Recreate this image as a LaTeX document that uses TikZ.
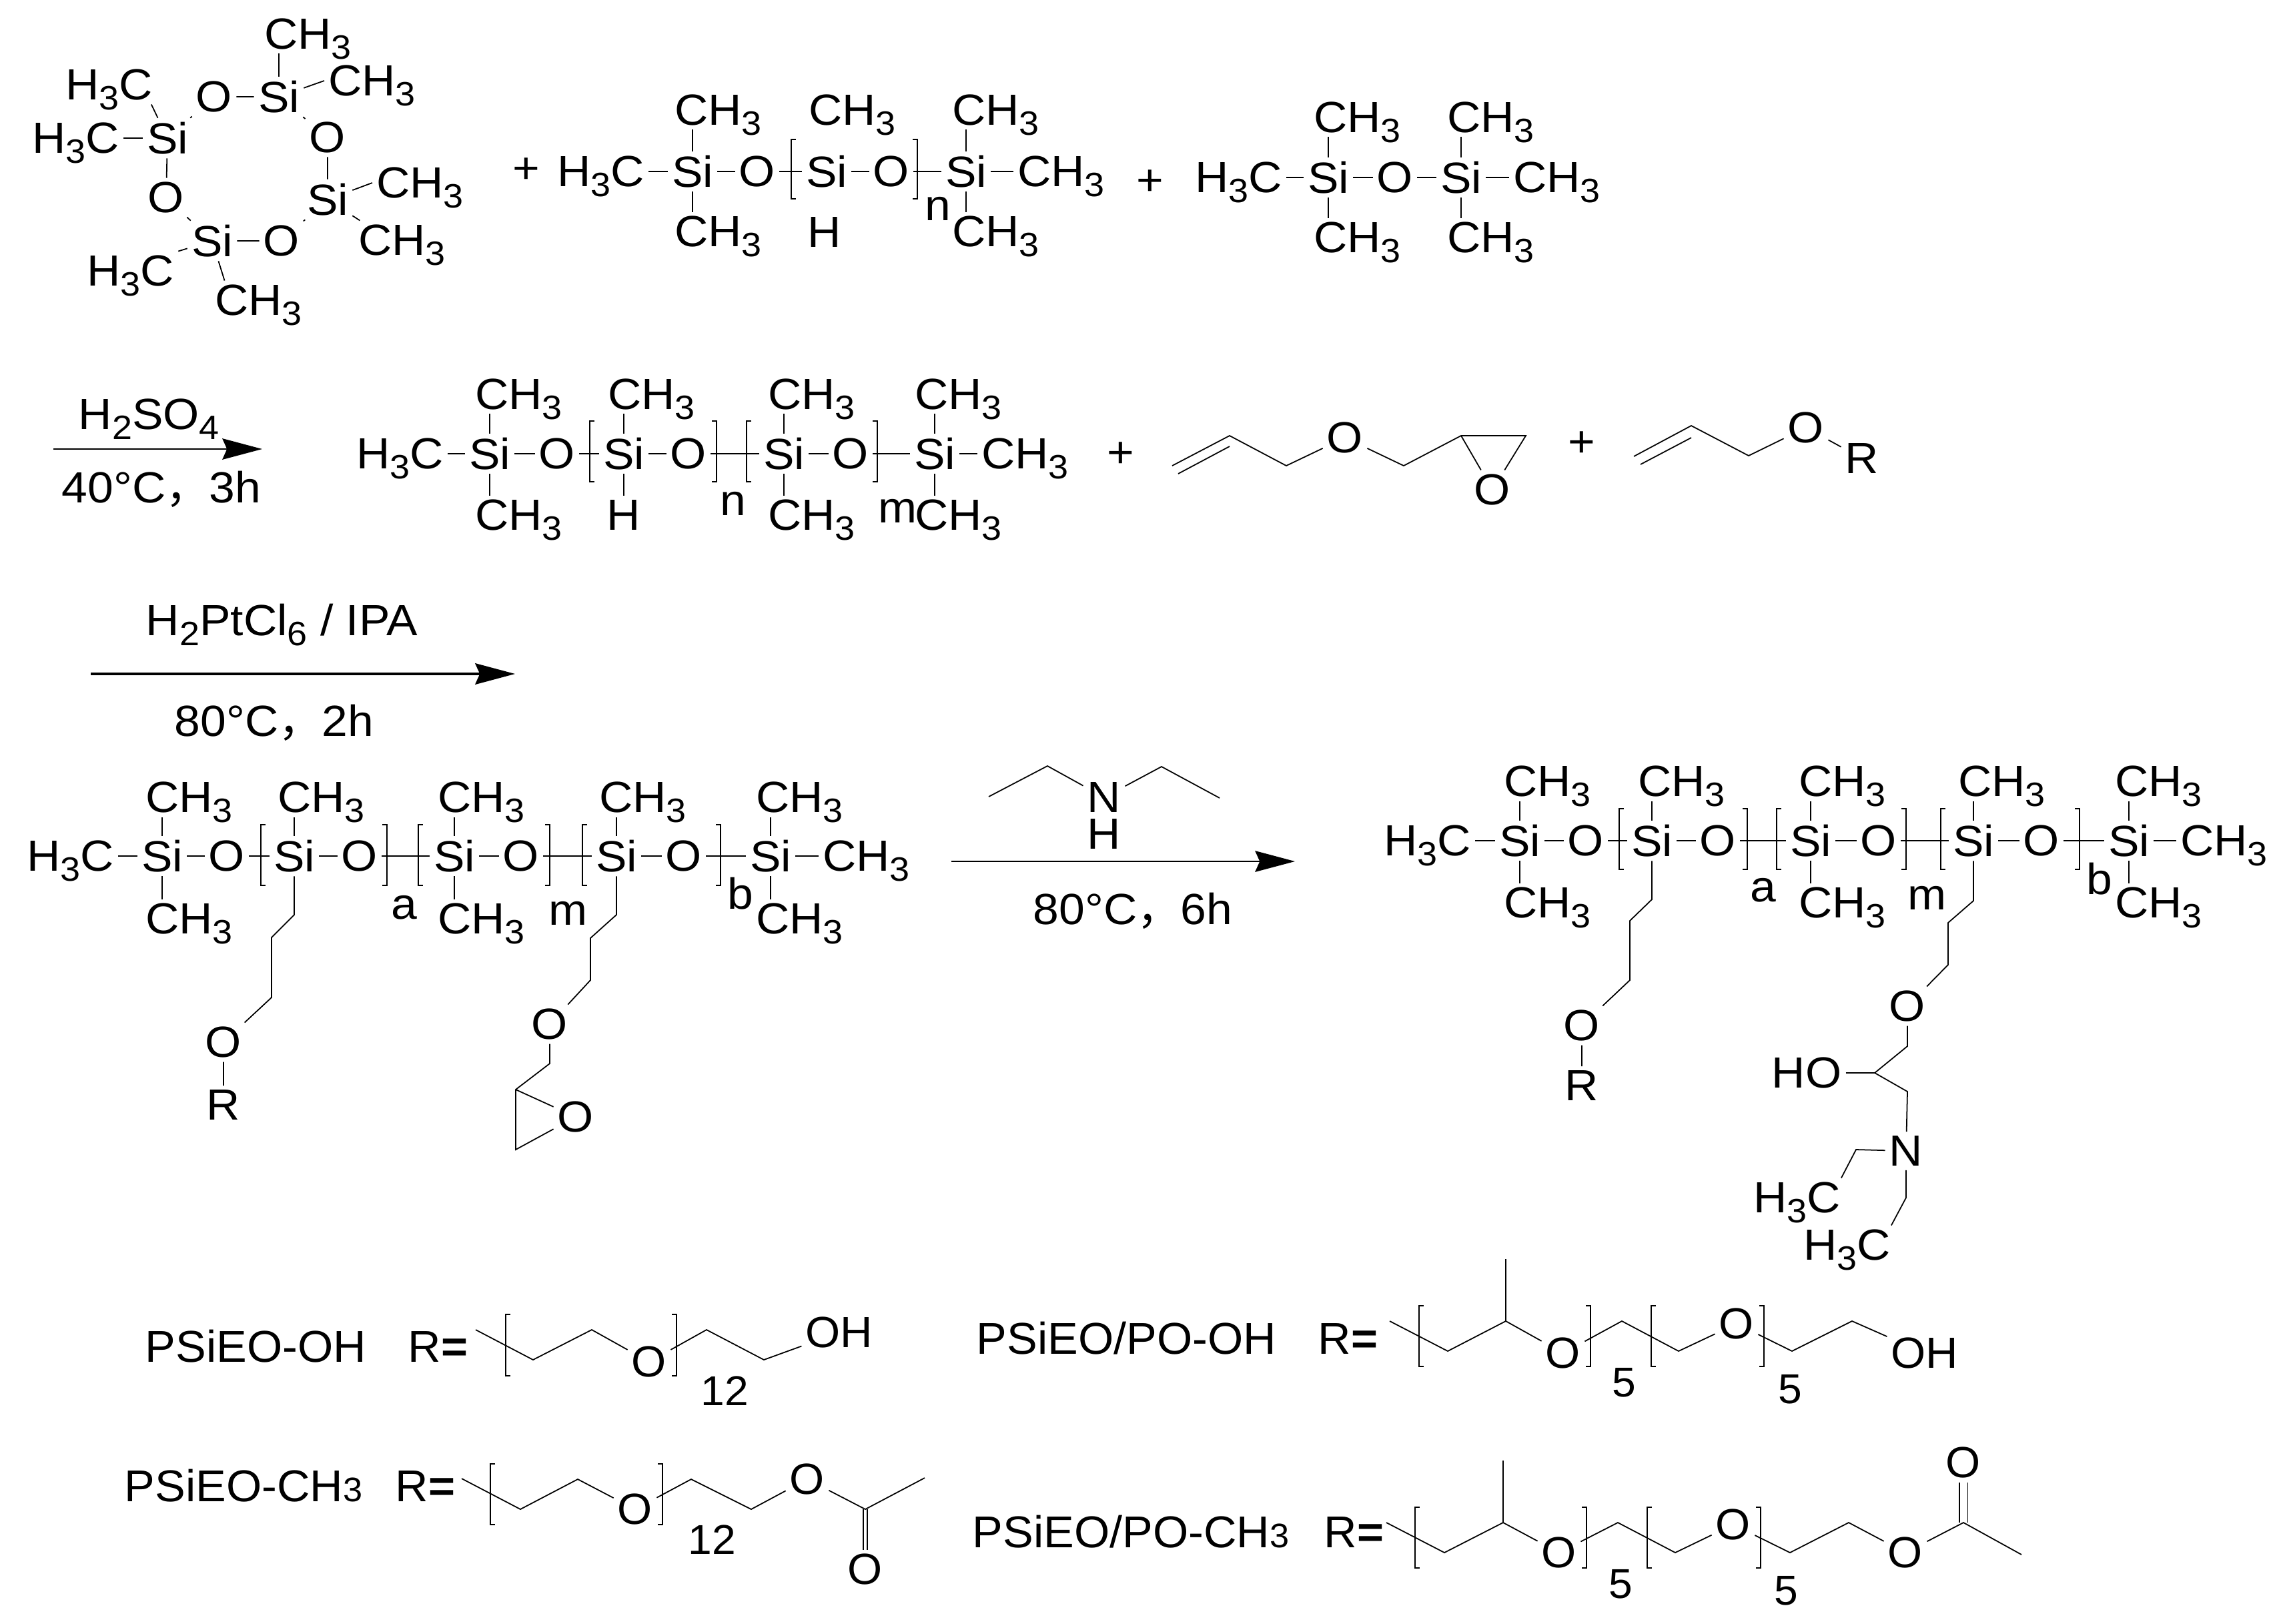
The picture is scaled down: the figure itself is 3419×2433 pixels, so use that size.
\documentclass[tikz,border=0pt]{standalone}
\usepackage{fontspec}
\setmainfont[FakeStretch=1.065]{Liberation Sans}
\newfontfamily\labelfont[FakeStretch=1.025]{Liberation Sans}
\newfontfamily\cjk{Noto Sans CJK SC}
\usetikzlibrary{arrows.meta}
\newcommand{\sbs}[1]{\smash{\raisebox{-0.23em}{\fontsize{14.4}{14.4}\selectfont #1}}}
\newcommand{\chme}{CH\sbs{3}}
\newcommand{\hcme}{H\sbs{3}C}
\newcommand{\upbond}[2]{\draw (#1.north) -- (#1.north |- #2.south);}
\newcommand{\downbond}[2]{\draw (#1.south) -- (#1.south |- #2.north);}
\newcommand{\brL}[3]{\draw[brack] (#1,#2) ++(7,0) -- ++(-7,0) -- (#1,#3) -- ++(7,0);}
\newcommand{\brR}[3]{\draw[brack] (#1,#2) ++(-7,0) -- ++(7,0) -- (#1,#3) -- ++(-7,0);}
\tikzset{
  atom/.style  = {inner sep=0pt, outer sep=1.8pt},
  group/.style = {atom, anchor=west},
  plus/.style  = {inner sep=0pt},
  idx/.style   = {inner sep=0pt, anchor=base},
  cond/.style  = {inner sep=0pt, anchor=west},
  lbl/.style   = {inner sep=0pt, anchor=west, font=\labelfont\fontsize{19}{21}\selectfont},
  digit/.style = {inner sep=0pt, font=\labelfont\fontsize{17.8}{20}\selectfont},
  brack/.style = {line width=.4pt},
  rxn/.style   = {-{Stealth[length=17pt,width=9pt,inset=2pt]}}
}
\begin{document}
\begin{tikzpicture}[x=0.01cm, y=-0.01cm, line width=.5pt, font=\fontsize{18.6}{20}\selectfont]
 \useasboundingbox (0,0) rectangle (3419,2433);
 % cyclic siloxane
 \node[atom] (cyT) at (418,145) {Si};
 \node[atom] (cyL) at (251,207) {Si};
 \node[atom] (cyR) at (491,299) {Si};
 \node[atom] (cyB) at (318,361) {Si};
 \node[atom] (cyO1) at (321,145) {O};
 \node[atom] (cyO2) at (491,206) {O};
 \node[atom] (cyO3) at (422,361) {O};
 \node[atom] (cyO4) at (249,296) {O};
 \node[group] (cy1) at (390,51) {\chme};
 \node[group] (cy2) at (486,121) {\chme};
 \node[group] (cy3) at (92,127) {\hcme};
 \node[group] (cy4) at (42,207) {\hcme};
 \node[group] (cy5) at (558,274) {\chme};
 \node[group] (cy6) at (531,360) {\chme};
 \node[group] (cy7) at (124,406) {\hcme};
 \node[group] (cy8) at (316,450) {\chme};
 \draw (cyT) -- (cyO1) -- (cyL) -- (cyO4) -- (cyB) -- (cyO3) -- (cyR) -- (cyO2) -- (cyT);
 \upbond{cyT}{cy1}
 \draw (cyT) -- (cy2.west);
 \draw (cyL) -- (cy3.-25);
 \draw (cyL) -- (cy4);
 \draw (cyR) -- (cy5.west);
 \draw (cyR) -- (cy6.155);
 \draw (cyB) -- (cy7.north east);
 \draw (cyB) -- (cy8.150);
 \node[plus] (pl1) at (789,256) {+};
 % hydrogen siloxane
 \node[group] (aL) at (829,257) {\hcme};
 \node[atom] (aS1) at (1038,257) {Si};
 \node[atom] (aO1) at (1135,257) {O};
 \node[atom] (aS2) at (1239,257) {Si};
 \node[atom] (aO2) at (1336,257) {O};
 \node[atom] (aS3) at (1448,257) {Si};
 \node[group] (aR) at (1519,257) {\chme};
 \node[group] (aU1) at (1005,165) {\chme};
 \node[group] (aU2) at (1206,165) {\chme};
 \node[group] (aU3) at (1421,165) {\chme};
 \node[group] (aD1) at (1005,347) {\chme};
 \node[atom] (aH) at (1236,348) {H};
 \node[group] (aD3) at (1421,347) {\chme};
 \node[idx] (an) at (1406,330) {n};
 \draw (aL) -- (aS1) -- (aO1) -- (aS2) -- (aO2) -- (aS3) -- (aR);
 \upbond{aS1}{aU1}
 \upbond{aS3}{aU3}
 \downbond{aS1}{aD1}
 \downbond{aS3}{aD3}
 \brL{1186}{209}{298}
 \brR{1375}{209}{298}
 \node[plus] (pl2) at (1724,274) {+};
 % disiloxane
 \node[group] (bL) at (1785,266) {\hcme};
 \node[atom] (bS1) at (1991,266) {Si};
 \node[atom] (bO) at (2091,266) {O};
 \node[atom] (bS2) at (2190,266) {Si};
 \node[group] (bR) at (2262,266) {\chme};
 \node[group] (bU1) at (1963,176) {\chme};
 \node[group] (bU2) at (2163,176) {\chme};
 \node[group] (bD1) at (1963,356) {\chme};
 \node[group] (bD2) at (2163,356) {\chme};
 \draw (bL) -- (bS1) -- (bO) -- (bS2) -- (bR);
 \upbond{bS1}{bU1}
 \upbond{bS2}{bU2}
 \downbond{bS1}{bD1}
 \downbond{bS2}{bD2}
 % first arrow
 \coordinate (r1a) at (80,673);
 \coordinate (r1b) at (393,673);
 \draw[rxn] (r1a) -- (r1b);
 \node[cond] (r1t) at (117,621) {H\sbs{2}SO\sbs{4}};
 \node[cond] (r1u) at (92,733) {40°C{\cjk ，}3h};
 % second row chain
 \node[group] (dL) at (528,680) {\hcme};
 \node[atom] (dS1) at (734,680) {Si};
 \node[atom] (dO1) at (835,680) {O};
 \node[atom] (dS2) at (935,680) {Si};
 \node[atom] (dO2) at (1032,680) {O};
 \node[atom] (dS3) at (1175,680) {Si};
 \node[atom] (dO3) at (1275,680) {O};
 \node[atom] (dS4) at (1401,680) {Si};
 \node[group] (dR) at (1465,680) {\chme};
 \node[group] (dU1) at (706,591) {\chme};
 \node[group] (dU2) at (905,591) {\chme};
 \node[group] (dU3) at (1145,591) {\chme};
 \node[group] (dU4) at (1365,591) {\chme};
 \node[group] (dD1) at (706,772) {\chme};
 \node[atom] (dH) at (935,772) {H};
 \node[group] (dD3) at (1145,772) {\chme};
 \node[group] (dD4) at (1365,772) {\chme};
 \node[idx] (dn) at (1099,772) {n};
 \node[idx] (dm) at (1345,783) {m};
 \draw (dL) -- (dS1) -- (dO1) -- (dS2) -- (dO2) -- (dS3) -- (dO3) -- (dS4) -- (dR);
 \upbond{dS1}{dU1}
 \upbond{dS2}{dU2}
 \upbond{dS3}{dU3}
 \upbond{dS4}{dU4}
 \downbond{dS1}{dD1}
 \downbond{dS2}{dH}
 \downbond{dS3}{dD3}
 \downbond{dS4}{dD4}
 \brL{884}{631}{722}
 \brR{1074}{631}{722}
 \brL{1119}{631}{722}
 \brR{1315}{631}{722}
 \node[plus] (pl3) at (1680,682) {+};
 % allyl glycidyl ether
 \coordinate (ga1) at (1757,698);
 \coordinate (ga2) at (1843,653);
 \coordinate (ga3) at (1766,710);
 \coordinate (ga4) at (1843,669);
 \coordinate (ga5) at (1928,698);
 \coordinate (ga6) at (2104,698);
 \coordinate (ga7) at (2190,653);
 \coordinate (ga8) at (2287,653);
 \node[atom] (gaO) at (2016,656) {O};
 \node[atom] (gaE) at (2237,734) {O};
 \draw (ga1) -- (ga2) -- (ga5) -- (gaO) -- (ga6) -- (ga7) -- (ga8) -- (gaE) -- (ga7);
 \draw (ga3) -- (ga4);
 \node[plus] (pl4) at (2371,666) {+};
 % allyl ether
 \coordinate (al1) at (2449,684);
 \coordinate (al2) at (2535,638);
 \coordinate (al3) at (2459,696);
 \coordinate (al4) at (2535,656);
 \coordinate (al5) at (2621,683);
 \node[atom] (alO) at (2707,641) {O};
 \node[atom] (alR) at (2791,687) {R};
 \draw (al1) -- (al2) -- (al5) -- (alO) -- (alR);
 \draw (al3) -- (al4);
 % second arrow
 \coordinate (r2a) at (136,1010);
 \coordinate (r2b) at (772,1010);
 \draw[rxn, line width=.9pt] (r2a) -- (r2b);
 \node[cond] (r2t) at (218,929) {H\sbs{2}PtCl\sbs{6} / IPA};
 \node[cond] (r2u) at (261,1083) {80°C{\cjk ，}2h};
 % third row chain
 \node[group] (eL) at (34,1283) {\hcme};
 \node[atom] (eS1) at (243,1283) {Si};
 \node[atom] (eO1) at (340,1283) {O};
 \node[atom] (eS2) at (441,1283) {Si};
 \node[atom] (eO2) at (539,1283) {O};
 \node[atom] (eS3) at (681,1283) {Si};
 \node[atom] (eO3) at (781,1283) {O};
 \node[atom] (eS4) at (924,1283) {Si};
 \node[atom] (eO4) at (1025,1283) {O};
 \node[atom] (eS5) at (1155,1283) {Si};
 \node[group] (eR) at (1227,1283) {\chme};
 \node[group] (eU1) at (212,1195) {\chme};
 \node[group] (eU2) at (410,1195) {\chme};
 \node[group] (eU3) at (650,1195) {\chme};
 \node[group] (eU4) at (892,1195) {\chme};
 \node[group] (eU5) at (1127,1195) {\chme};
 \node[group] (eD1) at (212,1377) {\chme};
 \node[group] (eD3) at (650,1377) {\chme};
 \node[group] (eD5) at (1127,1377) {\chme};
 \node[idx] (ea) at (606,1377) {a};
 \node[idx] (em) at (851,1386) {m};
 \node[idx] (eb) at (1110,1362) {b};
 \draw (eL) -- (eS1) -- (eO1) -- (eS2) -- (eO2) -- (eS3) -- (eO3) -- (eS4) -- (eO4) -- (eS5) -- (eR);
 \upbond{eS1}{eU1}
 \upbond{eS2}{eU2}
 \upbond{eS3}{eU3}
 \upbond{eS4}{eU4}
 \upbond{eS5}{eU5}
 \downbond{eS1}{eD1}
 \downbond{eS3}{eD3}
 \downbond{eS5}{eD5}
 \brL{391}{1236}{1327}
 \brR{580}{1236}{1327}
 \brL{627}{1236}{1327}
 \brR{824}{1236}{1327}
 \brL{873}{1236}{1327}
 \brR{1080}{1236}{1327}
 \coordinate (ep1) at (441,1371);
 \coordinate (ep2) at (407,1405);
 \coordinate (ep3) at (407,1495);
 \node[atom] (ePO) at (335,1562) {O};
 \node[atom] (ePR) at (335,1656) {R};
 \draw (eS2.south) -- (ep1) -- (ep2) -- (ep3) -- (ePO) -- (ePR);
 \coordinate (eq1) at (924,1371);
 \coordinate (eq2) at (885,1406);
 \coordinate (eq3) at (885,1469);
 \coordinate (eq4) at (824,1594);
 \coordinate (eq5) at (773,1633);
 \coordinate (eq6) at (773,1723);
 \node[atom] (eQO) at (824,1535) {O};
 \node[atom] (eQE) at (863,1674) {O};
 \draw (eS4.south) -- (eq1) -- (eq2) -- (eq3) -- (eQO) -- (eq4) -- (eq5) -- (eq6) -- (eQE) -- (eq5);
 % diethylamine and third arrow
 \coordinate (gd1) at (1482,1194);
 \coordinate (gd2) at (1570,1148);
 \coordinate (gd3) at (1741,1149);
 \coordinate (gd4) at (1828,1196);
 \node[atom] (gdN) at (1655,1195) {N};
 \node[atom] (gdH) at (1655,1250) {H};
 \draw (gd1) -- (gd2) -- (gdN) -- (gd3) -- (gd4);
 \coordinate (r3a) at (1426,1291);
 \coordinate (r3b) at (1941,1291);
 \draw[rxn] (r3a) -- (r3b);
 \node[cond] (r3u) at (1548,1365) {80°C{\cjk ，}6h};
 % product chain
 \node[group] (fL) at (2068,1260) {\hcme};
 \node[atom] (fS1) at (2278,1260) {Si};
 \node[atom] (fO1) at (2377,1260) {O};
 \node[atom] (fS2) at (2476,1260) {Si};
 \node[atom] (fO2) at (2575,1260) {O};
 \node[atom] (fS3) at (2714,1260) {Si};
 \node[atom] (fO3) at (2816,1260) {O};
 \node[atom] (fS4) at (2958,1260) {Si};
 \node[atom] (fO4) at (3060,1260) {O};
 \node[atom] (fS5) at (3191,1260) {Si};
 \node[group] (fR) at (3262,1260) {\chme};
 \node[group] (fU1) at (2248,1171) {\chme};
 \node[group] (fU2) at (2449,1171) {\chme};
 \node[group] (fU3) at (2690,1171) {\chme};
 \node[group] (fU4) at (2929,1171) {\chme};
 \node[group] (fU5) at (3164,1171) {\chme};
 \node[group] (fD1) at (2248,1353) {\chme};
 \node[group] (fD3) at (2690,1353) {\chme};
 \node[group] (fD5) at (3164,1353) {\chme};
 \node[idx] (fa) at (2643,1351) {a};
 \node[idx] (fm) at (2888,1363) {m};
 \node[idx] (fb) at (3147,1340) {b};
 \draw (fL) -- (fS1) -- (fO1) -- (fS2) -- (fO2) -- (fS3) -- (fO3) -- (fS4) -- (fO4) -- (fS5) -- (fR);
 \upbond{fS1}{fU1}
 \upbond{fS2}{fU2}
 \upbond{fS3}{fU3}
 \upbond{fS4}{fU4}
 \upbond{fS5}{fU5}
 \downbond{fS1}{fD1}
 \downbond{fS3}{fD3}
 \downbond{fS5}{fD5}
 \brL{2427}{1212}{1303}
 \brR{2619}{1212}{1303}
 \brL{2663}{1212}{1303}
 \brR{2857}{1212}{1303}
 \brL{2909}{1212}{1303}
 \brR{3117}{1212}{1303}
 \coordinate (fp1) at (2476,1348);
 \coordinate (fp2) at (2443,1380);
 \coordinate (fp3) at (2443,1469);
 \node[atom] (fPO) at (2371,1537) {O};
 \node[atom] (fPR) at (2371,1627) {R};
 \draw (fS2.south) -- (fp1) -- (fp2) -- (fp3) -- (fPO) -- (fPR);
 \coordinate (fq1) at (2958,1350);
 \coordinate (fq2) at (2920,1383);
 \coordinate (fq3) at (2920,1446);
 \coordinate (fq4) at (2859,1568);
 \coordinate (fq5) at (2810,1608);
 \coordinate (fq6) at (2859,1636);
 \coordinate (fq7) at (2782,1723);
 \coordinate (fq8) at (2857,1795);
 \node[atom] (fQO) at (2859,1508) {O};
 \node[atom] (fHO) at (2708,1608) {HO};
 \node[atom] (fN) at (2857,1725) {N};
 \node[group] (fE1) at (2622,1795) {\hcme};
 \node[group] (fE2) at (2697,1866) {\hcme};
 \draw (fS4.south) -- (fq1) -- (fq2) -- (fq3) -- (fQO) -- (fq4) -- (fq5) -- (fq6) -- (fN) -- (fq7) -- (fE1.24);
 \draw (fHO) -- (fq5);
 \draw (fN) -- (fq8) -- (fE2.24);
 % R groups
 \node[lbl] (t1) at (217,2018) {PSiEO-OH};
 \node[lbl] (t1r) at (611,2018) {R{\bfseries =}};
 \coordinate (k1) at (713,1993);
 \coordinate (k2) at (799,2038);
 \coordinate (k3) at (887,1993);
 \coordinate (k4) at (1059,1993);
 \coordinate (k5) at (1145,2038);
 \node[atom] (kO) at (973,2041) {\labelfont O};
 \node[atom] (kH) at (1258,1997) {\labelfont OH};
 \draw (k1) -- (k2) -- (k3) -- (kO) -- (k4) -- (k5) -- (kH);
 \brL{758}{1970}{2062}
 \brR{1014}{1970}{2062}
 \node[digit] (kn) at (1086,2085) {12};
 \node[lbl] (t2) at (186,2227) {PSiEO-CH{\fontsize{14.5}{14.5}\selectfont 3}};
 \node[lbl] (t2r) at (592,2227) {R{\bfseries =}};
 \coordinate (m1) at (692,2216);
 \coordinate (m2) at (780,2262);
 \coordinate (m3) at (866,2217);
 \coordinate (m4) at (1036,2217);
 \coordinate (m5) at (1126,2262);
 \coordinate (m6) at (1297,2262);
 \coordinate (m7) at (1386,2215);
 \node[atom] (mO1) at (952,2262) {\labelfont O};
 \node[atom] (mO2) at (1210,2217) {\labelfont O};
 \node[atom] (mO3) at (1297,2352) {\labelfont O};
 \draw (m1) -- (m2) -- (m3) -- (mO1) -- (m4) -- (m5) -- (mO2) -- (m6) -- (m7);
 \draw ([xshift=-.9pt]m6) -- ([xshift=-.9pt]m6 |- mO3.north);
 \draw ([xshift=.9pt]m6) -- ([xshift=.9pt]m6 |- mO3.north);
 \brL{735}{2194}{2285}
 \brR{993}{2194}{2285}
 \node[digit] (mn) at (1067,2308) {12};
 \node[lbl] (t3) at (1463,2006) {PSiEO/PO-OH};
 \node[lbl] (t3r) at (1975,2006) {R{\bfseries =}};
 \coordinate (p1) at (2083,1980);
 \coordinate (p2) at (2170,2025);
 \coordinate (p3) at (2257,1980);
 \coordinate (p4) at (2257,1887);
 \coordinate (p5) at (2431,1980);
 \coordinate (p6) at (2516,2025);
 \coordinate (p7) at (2686,2025);
 \coordinate (p8) at (2776,1980);
 \node[atom] (pO1) at (2343,2028) {\labelfont O};
 \node[atom] (pO2) at (2603,1984) {\labelfont O};
 \node[atom] (pH) at (2885,2028) {\labelfont OH};
 \draw (p1) -- (p2) -- (p3) -- (pO1) -- (p5) -- (p6) -- (pO2) -- (p7) -- (p8) -- (pH);
 \draw (p3) -- (p4);
 \brL{2127}{1957}{2048}
 \brR{2384}{1957}{2048}
 \brL{2475}{1957}{2048}
 \brR{2644}{1957}{2048}
 \node[digit] (pn1) at (2434,2072) {5};
 \node[digit] (pn2) at (2683,2082) {5};
 \node[lbl] (t4) at (1457,2296) {PSiEO/PO-CH{\fontsize{14.5}{14.5}\selectfont 3}};
 \node[lbl] (t4r) at (1984,2296) {R{\bfseries =}};
 \coordinate (q1) at (2078,2282);
 \coordinate (q2) at (2165,2327);
 \coordinate (q3) at (2253,2282);
 \coordinate (q4) at (2253,2189);
 \coordinate (q5) at (2425,2282);
 \coordinate (q6) at (2511,2327);
 \coordinate (q7) at (2683,2327);
 \coordinate (q8) at (2771,2282);
 \coordinate (q9) at (2943,2282);
 \coordinate (q10) at (3030,2330);
 \node[atom] (qO1) at (2337,2327) {\labelfont O};
 \node[atom] (qO2) at (2598,2285) {\labelfont O};
 \node[atom] (qO3) at (2856,2327) {\labelfont O};
 \node[atom] (qO4) at (2943,2192) {\labelfont O};
 \draw (q1) -- (q2) -- (q3) -- (qO1) -- (q5) -- (q6) -- (qO2) -- (q7) -- (q8) -- (qO3) -- (q9) -- (q10);
 \draw (q3) -- (q4);
 \draw ([xshift=-1.8pt]q9) -- ([xshift=-1.8pt]q9 |- qO4.south);
 \draw ([xshift=1.8pt]q9) -- ([xshift=1.8pt]q9 |- qO4.south);
 \brL{2121}{2259}{2350}
 \brR{2378}{2259}{2350}
 \brL{2469}{2259}{2350}
 \brR{2639}{2259}{2350}
 \node[digit] (qn1) at (2429,2374) {5};
 \node[digit] (qn2) at (2677,2384) {5};
\end{tikzpicture}
\end{document}
